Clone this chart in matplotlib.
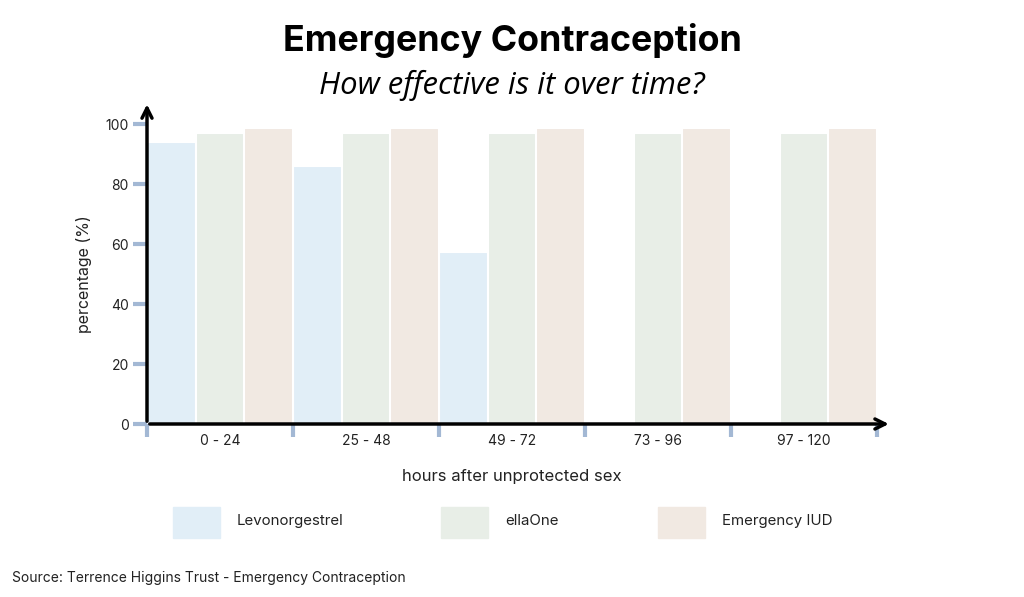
import matplotlib
matplotlib.use("Agg")
import matplotlib.pyplot as plt
import numpy as np

# data
categories = ["0 - 24", "25 - 48", "49 - 72", "73 - 96", "97 - 120"]
levonorgestrel = [94, 86, 57.5, 0, 0]
ellaone = [97, 97, 97, 97, 97]
iud = [98.6, 98.6, 98.6, 98.6, 98.6]
series_names = ["Levonorgestrel", "ellaOne", "Emergency IUD"]
colors = ["#e1eef7", "#e8eee7", "#f1e9e2"]
yticks = [0, 20, 40, 60, 80, 100]

plt.rcParams['font.family'] = ['Inter', 'DejaVu Sans']

W, H = 1024, 597
fig = plt.figure(figsize=(W / 100, H / 100), dpi=100)
fig.patch.set_facecolor('white')

# axes box: x from 147 to 877 px, y 0 at 424 px, 100 at 124 px
ax = fig.add_axes([147 / W, (H - 424) / H, 730 / W, 300 / H])
x = np.arange(len(categories))
bw = 1 / 3
for i, vals in enumerate([levonorgestrel, ellaone, iud]):
    ax.bar(x + (i - 1) * bw + 0.5, vals, width=bw, color=colors[i],
           edgecolor='white', linewidth=1.5, zorder=2)

ax.set_xlim(0, len(categories))
ax.set_ylim(0, 100)
for s in ax.spines.values():
    s.set_visible(False)

tick_color = "#a3b8d4"
ax.set_yticks(yticks)
ax.set_yticklabels([str(v) for v in yticks], fontsize=10, color="#222222")
ax.tick_params(axis='y', length=10, width=3, color=tick_color, pad=3)
ax.set_xticks(np.arange(len(categories) + 1))
ax.set_xticklabels([])
ax.set_xticks(x + 0.5, minor=True)
ax.set_xticklabels(categories, minor=True, fontsize=10, color="#222222")
ax.tick_params(axis='x', which='major', length=9, width=3, color=tick_color, direction='out')
ax.tick_params(axis='x', which='minor', length=0, pad=7)

# arrow axes
ax.annotate("", xy=(0, 1.075), xytext=(0, 0), xycoords='axes fraction',
            arrowprops=dict(arrowstyle="->", lw=2.5, color='black',
                            mutation_scale=18), zorder=5, annotation_clip=False)
ax.annotate("", xy=(1.02, 0), xytext=(0, 0), xycoords='axes fraction',
            arrowprops=dict(arrowstyle="->", lw=2.5, color='black',
                            mutation_scale=18), zorder=5, annotation_clip=False)

ax.set_ylabel("percentage (%)", fontsize=11.5, color="#222222", labelpad=10)
fig.text(512 / W, 1 - 477 / H, "hours after unprotected sex", ha='center', va='center',
         fontsize=12, color="#222222")

fig.text(512 / W, 1 - 41 / H, "Emergency Contraception", ha='center', va='center',
         fontsize=25.8, fontweight='bold', color='black')
fig.text(512 / W, 1 - 85 / H, "How effective is it over time?", ha='center', va='center',
         fontsize=22.3, style='italic', color='black', family=['Open Sans', 'DejaVu Sans'])

# legend
leg_x = [173, 441, 658]
for lx, name, c in zip(leg_x, series_names, colors):
    fig.patches.append(plt.Rectangle((lx / W, 1 - 538 / H), 47 / W, 31 / H,
                                     transform=fig.transFigure, color=c, figure=fig))
    fig.text((lx + 64) / W, 1 - 521 / H, name, ha='left', va='center',
             fontsize=10.8, color="#222222")

fig.text(12 / W, 1 - 578 / H, "Source: Terrence Higgins Trust - Emergency Contraception",
         ha='left', va='center', fontsize=10, color="#222222")

fig.savefig("out.png", dpi=100, facecolor='white')
